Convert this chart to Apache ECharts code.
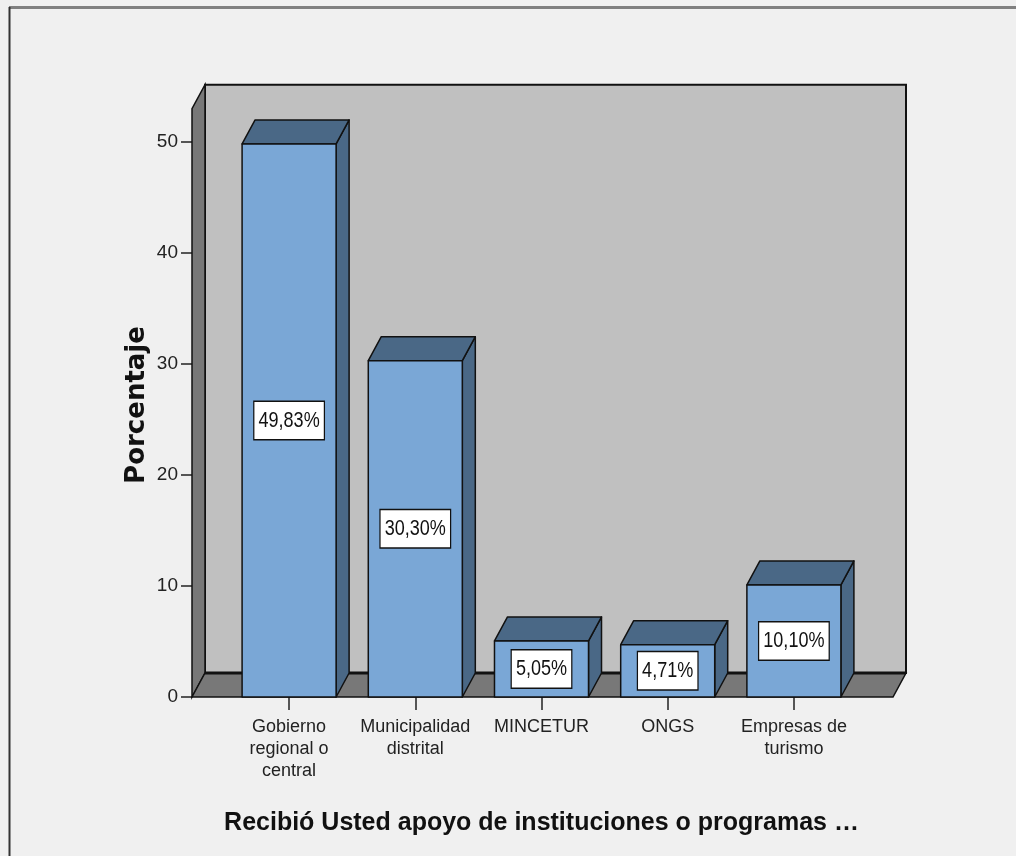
<!DOCTYPE html>
<html>
<head>
<meta charset="utf-8">
<title>Recibió Usted apoyo de instituciones o programas</title>
<script src="https://cdn.jsdelivr.net/npm/echarts@6/dist/echarts.min.js"></script>
<style>
html, body { margin: 0; padding: 0; background: #f0f0f0; }
#chart { width: 1016px; height: 856px; }
</style>
</head>
<body>
<div id="chart"></div>
<script>
// categorías del eje X
const categorias = ['Gobierno\nregional o\ncentral', 'Municipalidad\ndistrital', 'MINCETUR', 'ONGS', 'Empresas de\nturismo'];
// porcentajes por categoría
const porcentajes = [49.83, 30.30, 5.05, 4.71, 10.10];
// escala del eje Y
const yMin = 0;
const yMax = 50;
const yPaso = 10;
const paredTope = 53; // altura de la pared del fondo (en unidades del eje)

const FUENTE = '"Liberation Sans", Arial, sans-serif';
const PROF_X = 13; // profundidad 3D
const PROF_Y = 24;
const PAD_IZQ = 34;
const PAD_DER = 36;

function formato(v) {
    return v.toFixed(2).replace('.', ',') + '%';
}

// paredes y piso del gráfico 3D
function renderParedes(params, api) {
    const cs = params.coordSys;
    const izq = cs.x - PAD_IZQ;
    const der = cs.x + cs.width + PAD_DER;
    const base = api.coord([0, yMin])[1];
    const tope = api.coord([0, paredTope])[1];
    const linea = { stroke: '#111', lineWidth: 1.5 };
    return {
        type: 'group',
        children: [
            {
                type: 'rect',
                shape: { x: izq + PROF_X, y: tope - PROF_Y, width: der - izq, height: base - tope },
                style: Object.assign({ fill: '#c0c0c0' }, linea, { lineWidth: 2 })
            },
            {
                type: 'polygon',
                shape: { points: [[izq, base], [izq, tope], [izq + PROF_X, tope - PROF_Y], [izq + PROF_X, base - PROF_Y]] },
                style: Object.assign({ fill: '#787878' }, linea)
            },
            {
                type: 'polygon',
                shape: { points: [[izq, base], [izq + PROF_X, base - PROF_Y], [der + PROF_X, base - PROF_Y], [der, base]] },
                style: Object.assign({ fill: '#787878' }, linea)
            },
            {
                type: 'line',
                shape: { x1: izq + PROF_X, y1: base - PROF_Y, x2: der + PROF_X, y2: base - PROF_Y },
                style: { stroke: '#111', lineWidth: 3 }
            }
        ]
    };
}

// barras 3D con etiqueta
function renderBarra(params, api) {
    const idx = api.value(0);
    const val = api.value(1);
    const base = api.coord([idx, 0]);
    const tope = api.coord([idx, val]);
    const ancho = api.size([1, 0])[0] * 0.745;
    const x0 = base[0] - ancho / 2;
    const x1 = base[0] + ancho / 2;
    const y0 = base[1];
    const y1 = tope[1];
    const borde = { stroke: '#111', lineWidth: 1.5, lineJoin: 'round' };
    return {
        type: 'group',
        children: [
            {
                type: 'polygon',
                shape: { points: [[x1, y1], [x1 + PROF_X, y1 - PROF_Y], [x1 + PROF_X, y0 - PROF_Y], [x1, y0]] },
                style: Object.assign({ fill: '#4a6886' }, borde)
            },
            {
                type: 'polygon',
                shape: { points: [[x0, y1], [x0 + PROF_X, y1 - PROF_Y], [x1 + PROF_X, y1 - PROF_Y], [x1, y1]] },
                style: Object.assign({ fill: '#4a6886' }, borde)
            },
            {
                type: 'rect',
                shape: { x: x0, y: y1, width: ancho, height: y0 - y1 },
                style: Object.assign({ fill: '#7aa7d6' }, borde)
            },
            {
                // texto angosto como en el original
                type: 'text',
                x: base[0],
                y: (y0 + y1) / 2,
                scaleX: 0.82,
                style: {
                    text: formato(val),
                    fontSize: 22,
                    fontFamily: FUENTE,
                    fill: '#111',
                    align: 'center',
                    verticalAlign: 'middle',
                    backgroundColor: '#ffffff',
                    borderColor: '#111',
                    borderWidth: 1.5,
                    padding: [8, 5, 7, 5]
                }
            }
        ]
    };
}

const chart = echarts.init(document.getElementById('chart'));

const option = {
    backgroundColor: '#f0f0f0',
    animation: false,
    grid: {
        left: 226,
        right: 159,
        top: 142,
        bottom: 159
    },
    graphic: [
        { type: 'line', shape: { x1: 9, y1: 7.5, x2: 1016, y2: 7.5 }, style: { stroke: '#808080', lineWidth: 3 } },
        { type: 'line', shape: { x1: 9.5, y1: 7, x2: 9.5, y2: 856 }, style: { stroke: '#333', lineWidth: 2 } }
    ],
    xAxis: {
        type: 'category',
        data: categorias,
        name: 'Recibió Usted apoyo de instituciones o programas …',
        nameLocation: 'middle',
        nameGap: 114,
        nameMoveOverlap: false,
        nameTextStyle: {
            fontFamily: FUENTE,
            fontSize: 25,
            fontWeight: 'bold',
            color: '#111'
        },
        axisLine: { show: false },
        axisTick: {
            show: true,
            alignWithLabel: true,
            length: 13,
            lineStyle: { color: '#222', width: 1.5 }
        },
        axisLabel: {
            margin: 19,
            fontFamily: FUENTE,
            fontSize: 18,
            lineHeight: 22,
            color: '#222',
            interval: 0
        },
        splitLine: { show: false }
    },
    yAxis: {
        type: 'value',
        min: yMin,
        max: yMax,
        interval: yPaso,
        offset: PAD_IZQ,
        name: 'Porcentaje',
        nameLocation: 'middle',
        nameGap: 42,
        nameMoveOverlap: false,
        nameTextStyle: {
            fontFamily: '"DejaVu Sans", sans-serif',
            fontSize: 26,
            fontWeight: 'bold',
            color: '#111',
            padding: [0, 0, 0, 29]
        },
        axisLine: { show: false },
        axisTick: {
            show: true,
            length: 11,
            lineStyle: { color: '#222', width: 1.5 }
        },
        axisLabel: {
            margin: 14,
            fontFamily: FUENTE,
            fontSize: 19,
            color: '#222'
        },
        splitLine: { show: false }
    },
    series: [
        {
            type: 'custom',
            name: 'paredes',
            renderItem: renderParedes,
            data: [[0, 0]],
            silent: true,
            z: 1
        },
        {
            type: 'custom',
            name: 'Porcentaje',
            renderItem: renderBarra,
            encode: { x: 0, y: 1 },
            data: porcentajes.map(function (v, i) { return [i, v]; }),
            z: 2
        }
    ]
};

chart.setOption(option);
window.addEventListener('resize', function () {
    chart.resize();
});
</script>
</body>
</html>
